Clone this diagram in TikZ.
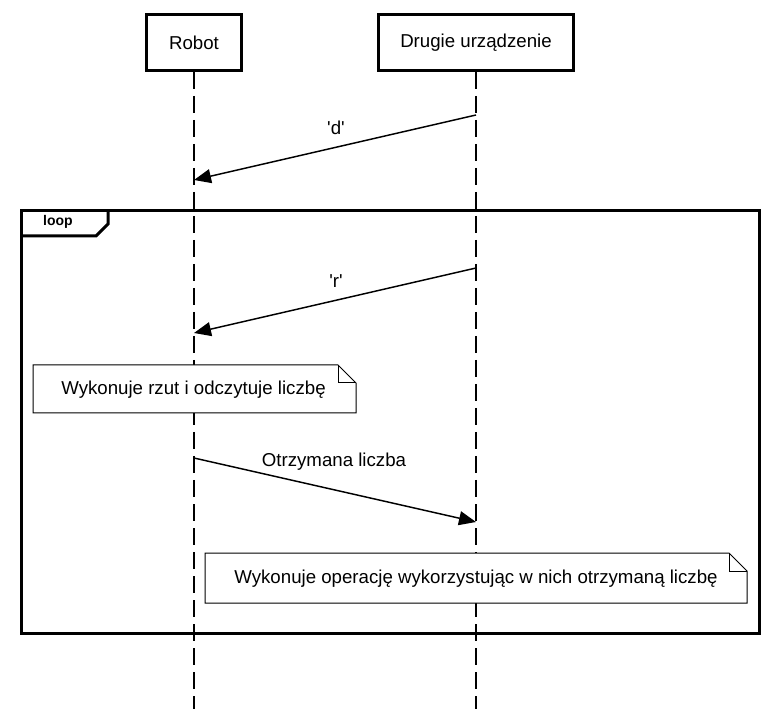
\documentclass[tikz,border=0pt]{standalone}
\usepackage{fontspec}
\setmainfont{Liberation Sans}[Ligatures=TeXOff]
\usetikzlibrary{arrows.meta}

\tikzset{every picture/.style={line width=0.75pt}}
\tikzset{
  lifebox/.style={draw, line width=2.25pt, minimum height=42pt, inner sep=0pt, font=\fontsize{14}{16.5}\selectfont},
  lifeline/.style={line width=1.5pt, dash pattern=on 12.75pt off 5.25pt},
  msg/.style={line width=1.1pt, -{Triangle[length=12.75pt, width=10.5pt]}},
  lbl/.style={inner sep=0.75pt, font=\fontsize{14}{16.5}\selectfont},
  notetext/.style={inner sep=0pt, font=\fontsize{14}{16.5}\selectfont},
}

\begin{document}
\begin{tikzpicture}[x=0.75pt,y=0.75pt,yscale=-1,xscale=1]
\useasboundingbox (0,0) rectangle (779,709);

%Lifeline heads
\node[lifebox, minimum width=71.25pt] (robot) at (194,42.5) {Robot};
\node[lifebox, minimum width=146.25pt] (device) at (476,42.5) {Drugie urządzenie};

%Lifelines
\coordinate (robot-end) at (194,709);
\coordinate (device-end) at (476,709);
\draw[lifeline] (robot) -- (robot-end);
\draw[lifeline] (device) -- (device-end);

%Message 'd'
\coordinate (d-from) at (476,115);
\coordinate (d-to) at (194,180);
\draw[msg] (d-from) -- (d-to);
\node[lbl] (d-label) at (336,128) {'d'};

%Loop frame
\draw[line width=2.25pt] (21.5,211) rectangle (759.5,633);
\draw[line width=2.25pt] (21.5,236) -- (96,236) -- (108,224) -- (108,211);
\node[inner sep=0pt, font=\bfseries\fontsize{10.5}{12}\selectfont] (loop-label) at (58,222) {loop};

%Message 'r'
\coordinate (r-from) at (476,268);
\coordinate (r-to) at (194,333);
\draw[msg] (r-from) -- (r-to);
\node[lbl] (r-label) at (336,281) {'r'};

%Note: throw
\draw[fill=white] (33,365) -- (338,365) -- (356,383) -- (356,413) -- (33,413) -- cycle;
\draw (338,365) -- (338,383) -- (356,383);
\node[notetext] (roll-note) at (193.5,389.5) {Wykonuje rzut i odczytuje liczbę};

%Message with the number
\coordinate (num-from) at (194,458);
\coordinate (num-to) at (476,522);
\draw[msg] (num-from) -- (num-to);
\node[lbl] (num-label) at (334,462) {Otrzymana liczba};

%Note: operation
\draw[fill=white] (205,553) -- (729,553) -- (747,571) -- (747,603) -- (205,603) -- cycle;
\draw (729,553) -- (729,571) -- (747,571);
\node[notetext] (op-note) at (476,579) {Wykonuje operację wykorzystując w nich otrzymaną liczbę};

\end{tikzpicture}
\end{document}
